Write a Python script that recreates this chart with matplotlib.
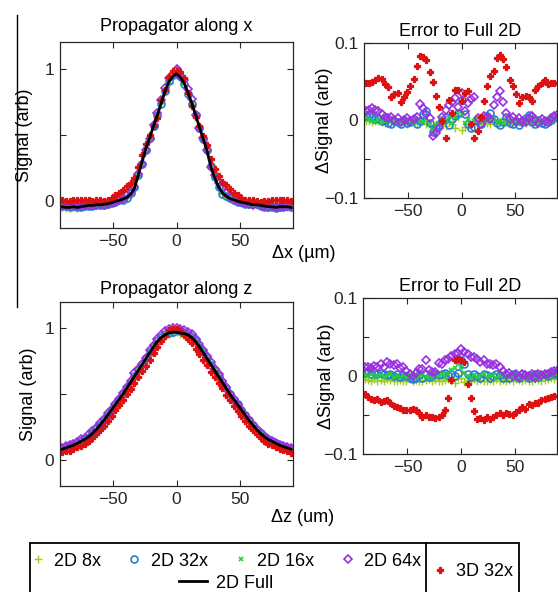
#!/usr/bin/env python3
"""Propagator profiles along x and z, and their error relative to the full 2D result."""

import matplotlib

matplotlib.use("Agg")

import matplotlib.pyplot as plt
import numpy as np
from matplotlib.lines import Line2D
from matplotlib.patches import Rectangle

plt.rcParams["font.family"] = ["Liberation Sans", "DejaVu Sans"]

# sample positions (um), same grid for both directions
positions = [
    -90, -87, -84, -81, -78, -75, -72, -69, -66, -63,
    -60, -57, -54, -51, -48, -45, -42, -39, -36, -33,
    -30, -27, -24, -21, -18, -15, -12, -9, -6, -3,
    0, 3, 6, 9, 12, 15, 18, 21, 24, 27,
    30, 33, 36, 39, 42, 45, 48, 51, 54, 57,
    60, 63, 66, 69, 72, 75, 78, 81, 84, 87, 90,
]

# ---- along x ----
full_x = [
    -0.040, -0.045, -0.045, -0.040, -0.045, -0.040, -0.035, -0.030, -0.030, -0.025,
    -0.025, -0.022, -0.018, -0.010, 0.000, 0.008, 0.018, 0.030, 0.055, 0.100,
    0.200, 0.300, 0.400, 0.480, 0.570, 0.650, 0.740, 0.830, 0.900, 0.940,
    0.960, 0.935, 0.890, 0.820, 0.740, 0.650, 0.560, 0.470, 0.380, 0.260,
    0.180, 0.110, 0.065, 0.040, 0.022, 0.012, 0.002, -0.006, -0.012, -0.018,
    -0.025, -0.025, -0.030, -0.035, -0.040, -0.040, -0.045, -0.040, -0.040, -0.040, -0.045,
]
err_x_8 = [
    0.000, -0.001, -0.002, 0.000, -0.001, -0.002, -0.003, -0.001, 0.000, -0.002,
    -0.003, -0.001, -0.002, -0.004, -0.002, 0.000, -0.003, -0.002, -0.001, -0.004,
    -0.006, -0.009, -0.005, -0.002, -0.004, -0.007, -0.002, -0.005, -0.010, 0.004,
    -0.012, -0.008, -0.004, -0.006, -0.003, -0.001, -0.004, -0.002, -0.003, -0.005,
    -0.002, -0.004, -0.001, -0.003, -0.002, -0.004, -0.001, -0.003, -0.002, -0.001,
    -0.003, -0.002, -0.004, -0.001, -0.002, -0.003, -0.001, -0.002, 0.000, 0.001, 0.002,
]
err_x_32 = [
    0.006, 0.008, 0.004, 0.002, 0.003, -0.001, 0.001, -0.003, -0.004, 0.000,
    -0.002, -0.004, 0.001, -0.003, -0.002, 0.002, -0.004, -0.001, 0.008, 0.012,
    -0.003, -0.015, -0.010, -0.006, 0.001, 0.004, -0.006, 0.002, 0.006, 0.010,
    0.027, 0.009, -0.005, -0.010, -0.008, 0.001, -0.004, 0.003, 0.006, 0.010,
    0.002, -0.003, -0.006, -0.002, 0.004, -0.003, -0.005, -0.001, -0.006, -0.002,
    0.003, 0.007, -0.002, -0.004, 0.001, -0.003, -0.005, -0.002, 0.001, 0.004, 0.003,
]
err_x_16 = [
    0.004, 0.002, 0.000, -0.002, 0.001, 0.000, -0.001, 0.002, -0.001, -0.002,
    0.000, -0.002, 0.001, -0.001, 0.000, -0.003, 0.001, 0.000, -0.002, 0.002,
    -0.004, -0.012, -0.007, -0.003, 0.002, 0.000, 0.004, -0.003, 0.005, 0.012,
    0.008, -0.003, 0.002, -0.004, -0.001, 0.003, 0.000, 0.002, 0.004, -0.001,
    0.002, -0.002, 0.000, -0.003, 0.001, -0.002, 0.000, -0.001, 0.001, -0.003,
    0.000, 0.004, -0.002, 0.001, -0.003, 0.000, -0.002, 0.001, 0.000, 0.002, 0.004,
]
err_x_64 = [
    0.012, 0.014, 0.016, 0.014, 0.012, 0.008, 0.005, 0.003, 0.004, 0.001,
    0.003, -0.002, 0.001, 0.003, -0.001, 0.002, 0.004, 0.021, 0.016, 0.008,
    0.003, -0.020, -0.016, -0.010, 0.004, 0.014, 0.020, 0.024, 0.029, 0.018,
    0.036, 0.012, 0.022, 0.028, 0.030, 0.003, -0.004, 0.006, 0.004, 0.002,
    0.020, 0.030, 0.038, 0.024, 0.010, 0.002, 0.004, -0.001, 0.003, 0.000,
    -0.002, 0.003, 0.006, 0.001, -0.003, 0.002, 0.000, -0.002, 0.003, 0.006, 0.008,
]
err_x_3d = [
    0.049, 0.049, 0.050, 0.052, 0.055, 0.053, 0.047, 0.043, 0.030, 0.034,
    0.035, 0.024, 0.030, 0.037, 0.045, 0.053, 0.070, 0.083, 0.082, 0.078,
    0.062, 0.050, 0.032, 0.018, 0.000, -0.022, 0.027, 0.010, 0.039, 0.040,
    0.025, 0.036, 0.038, -0.005, -0.022, -0.014, 0.005, 0.025, 0.045, 0.058,
    0.064, 0.081, 0.084, 0.080, 0.069, 0.052, 0.045, 0.034, 0.023, 0.030,
    0.032, 0.030, 0.025, 0.039, 0.045, 0.049, 0.052, 0.047, 0.049, 0.049, 0.049,
]

# ---- along z ----
full_z = [
    0.080, 0.090, 0.100, 0.110, 0.125, 0.140, 0.155, 0.175, 0.200, 0.230,
    0.265, 0.300, 0.340, 0.380, 0.420, 0.460, 0.500, 0.545, 0.590, 0.635,
    0.680, 0.725, 0.770, 0.815, 0.860, 0.900, 0.930, 0.950, 0.965, 0.970,
    0.970, 0.965, 0.960, 0.950, 0.930, 0.900, 0.860, 0.815, 0.770, 0.725,
    0.680, 0.635, 0.590, 0.545, 0.500, 0.460, 0.420, 0.380, 0.340, 0.300,
    0.265, 0.230, 0.200, 0.175, 0.155, 0.140, 0.125, 0.110, 0.100, 0.090, 0.080,
]
err_z_8 = [
    -0.004, -0.005, -0.006, -0.004, -0.007, -0.005, -0.006, -0.004, -0.005, -0.007,
    -0.006, -0.005, -0.007, -0.006, -0.004, -0.006, -0.005, -0.007, -0.006, -0.005,
    -0.004, -0.006, -0.005, -0.007, -0.006, -0.005, -0.004, -0.006, -0.009, -0.003,
    -0.002, -0.008, -0.005, -0.006, -0.004, -0.006, -0.005, -0.007, -0.006, -0.005,
    -0.006, -0.004, -0.006, -0.005, -0.007, -0.005, -0.006, -0.004, -0.005, -0.006,
    -0.005, -0.007, -0.006, -0.004, -0.005, -0.006, -0.005, -0.004, -0.003, -0.004, -0.003,
]
err_z_32 = [
    0.004, 0.006, 0.003, 0.005, 0.002, 0.004, 0.003, 0.001, 0.003, 0.000,
    0.002, -0.001, 0.001, 0.000, -0.003, -0.004, -0.002, 0.001, -0.003, 0.002,
    -0.001, 0.000, 0.003, 0.001, 0.002, 0.004, 0.001, 0.003, 0.000, 0.004,
    0.020, 0.016, 0.002, -0.001, 0.002, 0.000, -0.002, 0.003, 0.001, -0.002,
    0.000, 0.003, 0.001, -0.002, 0.001, -0.003, 0.002, 0.000, -0.002, 0.003,
    0.001, -0.002, 0.000, 0.002, -0.001, 0.001, 0.002, 0.000, 0.003, 0.002, 0.004,
]
err_z_16 = [
    0.001, 0.000, 0.002, -0.001, 0.000, 0.001, -0.001, 0.000, 0.002, -0.001,
    0.000, -0.002, 0.001, -0.001, 0.000, 0.002, -0.002, 0.000, 0.001, -0.001,
    0.000, -0.002, 0.001, 0.000, 0.002, -0.001, 0.003, 0.008, 0.010, 0.015,
    0.010, 0.004, 0.000, -0.002, 0.001, -0.001, 0.000, 0.002, -0.001, 0.000,
    0.001, -0.002, 0.000, 0.001, -0.001, 0.000, -0.002, 0.001, 0.000, -0.001,
    0.000, 0.001, -0.001, 0.000, 0.002, -0.001, 0.000, 0.001, -0.001, 0.002, 0.003,
]
err_z_64 = [
    0.012, 0.012, 0.010, 0.013, 0.012, 0.015, 0.012, 0.018, 0.016, 0.014,
    0.015, 0.010, 0.012, 0.006, 0.003, 0.000, 0.004, 0.009, 0.009, 0.021,
    0.008, 0.005, 0.005, 0.017, 0.015, 0.020, 0.022, 0.026, 0.028, 0.030,
    0.034, 0.031, 0.028, 0.025, 0.024, 0.022, 0.018, 0.020, 0.016, 0.015,
    0.014, 0.016, 0.012, 0.006, 0.003, 0.004, 0.000, 0.002, -0.001, 0.003,
    0.001, 0.000, 0.003, -0.002, 0.002, 0.001, 0.003, 0.002, 0.005, 0.007, 0.008,
]
err_z_3d = [
    -0.023, -0.027, -0.030, -0.031, -0.030, -0.033, -0.032, -0.031, -0.034, -0.038,
    -0.040, -0.041, -0.043, -0.044, -0.043, -0.042, -0.044, -0.048, -0.052, -0.050,
    -0.053, -0.052, -0.054, -0.053, -0.050, -0.044, -0.028, -0.005, 0.020, 0.022,
    0.021, 0.018, -0.010, -0.028, -0.045, -0.055, -0.054, -0.056, -0.053, -0.055,
    -0.052, -0.050, -0.048, -0.050, -0.047, -0.049, -0.050, -0.046, -0.044, -0.040,
    -0.042, -0.036, -0.037, -0.035, -0.034, -0.031, -0.030, -0.028, -0.027, -0.025, -0.026,
]

series_labels = ["2D 8x", "2D 32x", "2D 16x", "2D 64x", "3D 32x"]
full_label = "2D Full"

STYLES = {
    "2D 8x": dict(marker="+", color="#9ccc1c", ms=5.5, mew=1.0),
    "2D 32x": dict(marker="o", mfc="none", mec="#2a7bd4", ms=5, mew=1.2),
    "2D 16x": dict(marker="x", color="#22cc44", ms=3.5, mew=1.2),
    "2D 64x": dict(marker="D", mfc="none", mec="#9a30e0", ms=4, mew=1.2),
    "3D 32x": dict(marker="P", color="#dd1111", mec="#dd1111", mew=0.9, ms=4.8),
}

AX_COLOR = "#262626"
FS = 13


def style_axes(ax, xlim, ylim, yticks, yticklabels):
    ax.set_xlim(*xlim)
    ax.set_ylim(*ylim)
    ax.set_xticks([-50, 0, 50])
    ax.set_yticks(yticks)
    ax.set_yticklabels(yticklabels)
    ax.tick_params(direction="in", top=True, right=True, length=4, width=0.8,
                   labelsize=12.5, pad=4, colors=AX_COLOR)
    for spine in ax.spines.values():
        spine.set_color(AX_COLOR)
        spine.set_linewidth(0.9)


def draw_profile(ax, full, errors, title, pad):
    x = np.array(positions)
    full = np.array(full)
    lines = []
    for label in series_labels:
        (ln,) = ax.plot(x, full + np.array(errors[label]), ls="none", label=label, **STYLES[label])
        lines.append(ln)
    (ln,) = ax.plot(x, full, color="black", lw=2, label=full_label)
    lines.append(ln)
    style_axes(ax, (-91.5, 91.5), (-0.2, 1.2), [0, 0.5, 1], ["0", "", "1"])
    ax.set_title(title, fontsize=FS, pad=pad)
    return lines


def draw_error(ax, errors, title, pad):
    x = np.array(positions)
    for label in series_labels:
        ax.plot(x, errors[label], ls="none", **STYLES[label])
    style_axes(ax, (-91.5, 89.5), (-0.1, 0.1), [-0.1, -0.05, 0, 0.05, 0.1],
               ["\u22120.1", "", "0", "", "0.1"])
    ax.set_title(title, fontsize=FS, pad=pad)


def main():
    W, H = 558, 592
    fig = plt.figure(figsize=(W / 100, H / 100), dpi=100)

    def box(x0, y0, x1, y1):
        return [x0 / W, 1 - y1 / H, (x1 - x0) / W, (y1 - y0) / H]

    ax_px = fig.add_axes(box(60, 42, 293, 228))
    ax_ex = fig.add_axes(box(364, 43, 557, 198))
    ax_pz = fig.add_axes(box(60, 302, 293, 486))
    ax_ez = fig.add_axes(box(363, 298, 557, 454))

    errors_x = dict(zip(series_labels, [err_x_8, err_x_32, err_x_16, err_x_64, err_x_3d]))
    errors_z = dict(zip(series_labels, [err_z_8, err_z_32, err_z_16, err_z_64, err_z_3d]))

    lines = draw_profile(ax_px, full_x, errors_x, "Propagator along x", 8)
    draw_error(ax_ex, errors_x, "Error to Full 2D", 5)
    draw_profile(ax_pz, full_z, errors_z, "Propagator along z", 6)
    draw_error(ax_ez, errors_z, "Error to Full 2D", 5)

    ax_px.set_ylabel("Signal (arb)", fontsize=FS)
    ax_px.yaxis.set_label_coords(-0.116, 0.5)
    ax_pz.set_ylabel("Signal (arb)", fontsize=FS)
    ax_pz.yaxis.set_label_coords(-0.099, 0.5)
    ax_ex.set_ylabel("\u0394Signal (arb)", fontsize=FS)
    ax_ex.yaxis.set_label_coords(-0.161, 0.5)
    ax_ez.set_ylabel("\u0394Signal (arb)", fontsize=FS)
    ax_ez.yaxis.set_label_coords(-0.144, 0.5)

    fig.text(304 / W, 1 - 254 / H, "\u0394x (\u00b5m)", fontsize=FS, ha="center", va="center")
    fig.text(303 / W, 1 - 517 / H, "\u0394z (um)", fontsize=FS, ha="center", va="center")

    # stray divider line on the left of the original figure
    fig.add_artist(Line2D([17 / W, 17 / W], [1 - 15 / H, 1 - 307 / H], color="black", lw=1))

    # legend frame with two compartments
    fig.add_artist(Rectangle((30 / W, -0.05), (519 - 30) / W, 0.05 + 1 - 543 / H,
                             transform=fig.transFigure, fill=False, ec="black", lw=1.3))
    fig.add_artist(Line2D([426 / W, 426 / W], [-0.05, 1 - 543 / H], color="black", lw=1.3))

    common = dict(frameon=False, fontsize=FS, numpoints=1, borderpad=0, borderaxespad=0)
    fig.legend(lines[:4], series_labels[:4], loc="center", ncol=4,
               bbox_to_anchor=(225 / W, 1 - 561 / H), handlelength=1.0,
               handletextpad=0.4, columnspacing=1.35, **common)
    fig.legend([lines[5]], [full_label], loc="center",
               bbox_to_anchor=(226 / W, 1 - 583 / H), handlelength=1.55,
               handletextpad=0.5, **common)
    fig.legend([lines[4]], [series_labels[4]], loc="center",
               bbox_to_anchor=(472 / W, 1 - 572 / H), handlelength=1.0,
               handletextpad=0.4, **common)

    fig.savefig("out.png", dpi=100)
    plt.close(fig)


if __name__ == "__main__":
    main()
